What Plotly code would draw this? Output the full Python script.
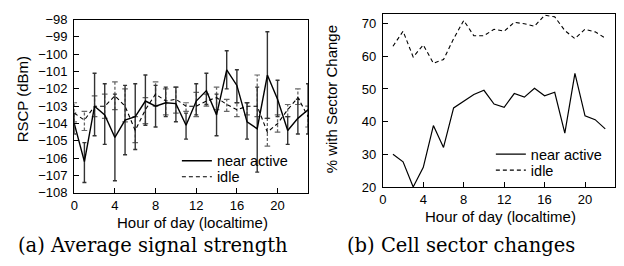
import plotly.graph_objects as go

# ---------------- data ----------------
hours = list(range(24))

# (a) RSCP, near active: mean, upper and lower ends of error bars
rscp_active = [-104.0, -106.2, -103.0, -103.5, -104.8, -103.8, -103.6, -102.7,
               -103.0, -102.8, -102.85, -104.1, -102.7, -102.1, -103.5, -100.9,
               -101.8, -103.9, -104.3, -101.2, -102.6, -104.4, -103.7, -103.2]
rscp_active_hi = [-103.4, -105.1, -101.1, -101.7, -102.3, -101.8, -101.7, -101.2,
                  -101.8, -101.9, -101.9, -103.4, -101.7, -101.1, -102.3, -99.8,
                  -100.9, -102.8, -101.9, -98.7, -101.5, -103.6, -102.6, -101.7]
rscp_active_lo = [-104.6, -107.4, -104.7, -105.2, -107.3, -105.8, -105.5, -104.1,
                  -104.2, -103.6, -103.9, -104.9, -103.5, -102.9, -104.7, -102.0,
                  -102.8, -104.9, -106.8, -103.7, -103.6, -105.2, -104.6, -104.6]

# (a) RSCP, idle
rscp_idle = [-103.4, -103.8, -103.0, -103.0, -102.4, -103.0, -104.4, -103.2,
             -102.3, -102.7, -102.6, -103.0, -103.0, -102.7, -102.5, -102.9,
             -103.2, -103.0, -103.0, -104.5, -104.0, -103.2, -102.5, -103.6]
rscp_idle_hi = [-102.8, -103.3, -102.4, -102.3, -101.6, -102.0, -103.6, -102.5,
                -101.6, -102.0, -101.9, -102.8, -102.2, -102.3, -101.9, -102.6,
                -102.8, -102.8, -101.2, -103.7, -103.5, -102.9, -102.0, -103.0]
rscp_idle_lo = [-103.9, -104.4, -103.6, -103.7, -103.2, -103.9, -105.1, -104.0,
                -103.0, -103.5, -103.4, -103.3, -103.6, -103.0, -103.2, -103.3,
                -103.6, -103.5, -103.6, -105.3, -104.5, -103.6, -102.9, -104.2]

# (b) % with sector change
hours_b = list(range(1, 23))
sector_active = [30.0, 27.7, 20.0, 26.0, 38.8, 32.1, 44.2, 46.2, 48.3, 49.6, 45.4,
                 44.4, 48.6, 47.5, 50.2, 47.9, 49.0, 36.5, 54.8, 41.8, 40.6, 37.8]
sector_idle = [63.1, 67.7, 59.8, 63.5, 57.9, 59.0, 65.4, 71.0, 66.3, 66.3, 68.3,
               67.7, 70.4, 70.0, 69.2, 72.6, 72.1, 67.9, 65.4, 68.3, 67.5, 65.6]

x_ticks = [0, 4, 8, 12, 16, 20]
rscp_ticks = list(range(-108, -97))
sector_ticks = [20, 30, 40, 50, 60, 70]

# ---------------- figure ----------------
FONT = "Liberation Sans, Arial, Helvetica, sans-serif"
fig = go.Figure()

# idle error bars (dashed) built from the idle arrays
ex, ey = [], []
for h, lo, hi in zip(hours, rscp_idle_lo, rscp_idle_hi):
    ex += [h, h, None]
    ey += [lo, hi, None]
fig.add_trace(go.Scatter(x=ex, y=ey, mode="lines", showlegend=False, hoverinfo="skip",
                         line=dict(color="#666666", width=1.3, dash="3px,2px"),
                         xaxis="x", yaxis="y"))
fig.add_trace(go.Scatter(x=hours + hours, y=rscp_idle_lo + rscp_idle_hi, mode="markers",
                         showlegend=False, hoverinfo="skip",
                         marker=dict(symbol="line-ew", size=4,
                                     line=dict(color="#666666", width=1.2)),
                         xaxis="x", yaxis="y"))

# near active with solid error bars
fig.add_trace(go.Scatter(
    x=hours, y=rscp_active, mode="lines", name="near active",
    line=dict(color="black", width=1.4),
    error_y=dict(type="data", symmetric=False,
                 array=[h - m for h, m in zip(rscp_active_hi, rscp_active)],
                 arrayminus=[m - l for m, l in zip(rscp_active, rscp_active_lo)],
                 color="#333333", thickness=1.4, width=2),
    xaxis="x", yaxis="y", legend="legend"))
fig.add_trace(go.Scatter(
    x=hours, y=rscp_idle, mode="lines", name="idle",
    line=dict(color="black", width=1.1, dash="4px,3px"),
    xaxis="x", yaxis="y", legend="legend2"))

# (b)
fig.add_trace(go.Scatter(
    x=hours_b, y=sector_active, mode="lines", name="near active",
    line=dict(color="black", width=1.2), xaxis="x2", yaxis="y2", legend="legend3"))
fig.add_trace(go.Scatter(
    x=hours_b, y=sector_idle, mode="lines", name="idle",
    line=dict(color="black", width=1.1, dash="4px,3px"),
    xaxis="x2", yaxis="y2", legend="legend4"))

W, H = 624, 266
def px(x):
    return x / W
def py(y):
    return 1 - y / H

axis_common = dict(showgrid=False, zeroline=False, showline=True, linecolor="black",
                   linewidth=1.2, mirror=True, ticks="inside", ticklen=5, tickwidth=1,
                   tickcolor="black", tickfont=dict(family=FONT, size=13, color="black"))

def leg(x, y):
    return dict(x=px(x), y=py(y), xanchor="left", yanchor="middle",
                bgcolor="rgba(0,0,0,0)", itemwidth=30, tracegroupgap=0,
                font=dict(family=FONT, size=14.5, color="black"))

fig.update_layout(
    width=W, height=H, margin=dict(l=0, r=0, t=0, b=0),
    paper_bgcolor="white", plot_bgcolor="white",
    showlegend=True,
    xaxis=dict(domain=[px(70.7), px(306)], range=[0, 23], tickvals=x_ticks,
               anchor="y", ticklabelstandoff=0, **axis_common),
    yaxis=dict(domain=[py(197), py(13.3)], range=[-108, -98], tickvals=rscp_ticks,
               anchor="x", ticklabelstandoff=3, **axis_common),
    xaxis2=dict(domain=[px(381.3), px(615.3)], range=[0, 23], tickvals=x_ticks,
                anchor="y2", ticklabelstandoff=0, **axis_common),
    yaxis2=dict(domain=[py(190.7), py(7.3)], range=[20, 73], tickvals=sector_ticks,
                anchor="x2", ticklabelstandoff=3, **axis_common),
    legend=leg(174, 163),
    legend2=leg(174, 180),
    legend3=leg(490, 156),
    legend4=leg(490, 173),
)

ann_font = dict(family=FONT, size=15, color="black")
cap_font = dict(family="DejaVu Serif, serif", size=19.5, color="black")
def ann(text, x, y, font, angle=0):
    fig.add_annotation(text=text, x=px(x), y=py(y), xref="paper", yref="paper",
                       xanchor="center", yanchor="middle", textangle=angle,
                       showarrow=False, font=font)

ann("RSCP (dBm)", 19, 98, ann_font, -90)
ann("% with Sector Change", 330, 98, ann_font, -90)
ann("Hour of day (localtime)", 190, 228, ann_font)
ann("Hour of day (localtime)", 500, 222, ann_font)
ann("(a) Average signal strength", 150, 253, cap_font)
ann("(b) Cell sector changes", 460, 253, cap_font)

fig.write_html("out.html", config={"displayModeBar": False},
               post_script="document.body.style.margin='0px';")
